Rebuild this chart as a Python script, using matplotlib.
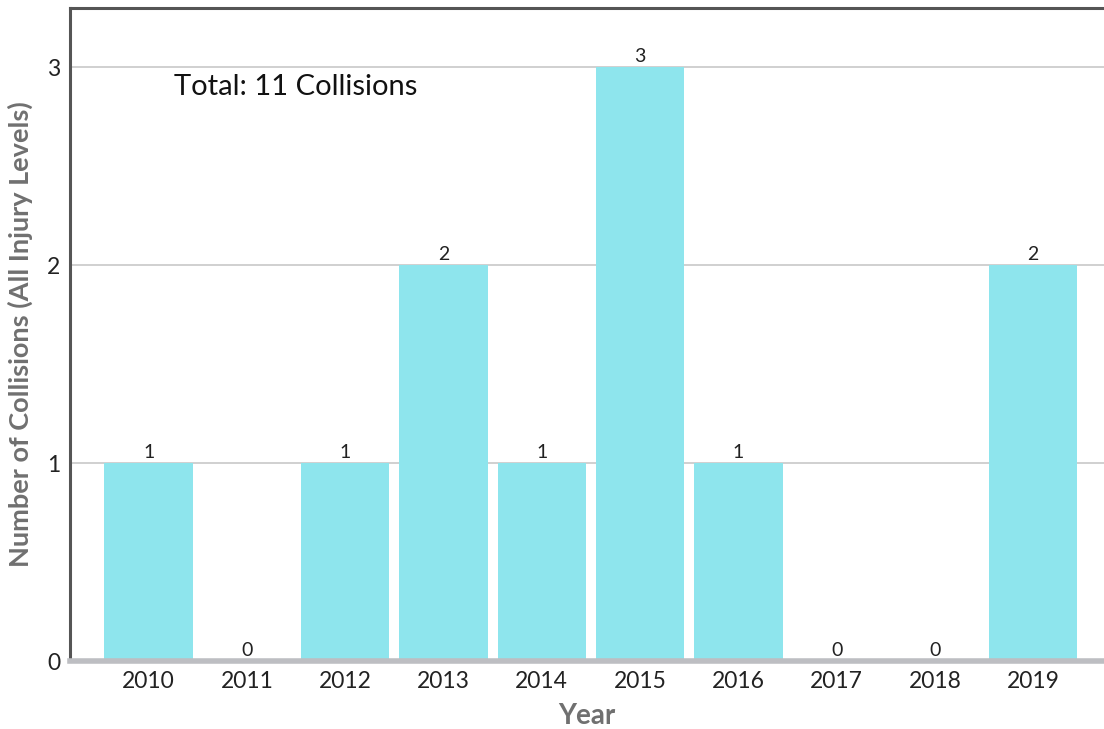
import matplotlib.pyplot as plt

# Datos
years = ["2010", "2011", "2012", "2013", "2014", "2015", "2016", "2017", "2018", "2019"]
collisions = [1, 0, 1, 2, 1, 3, 1, 0, 0, 2]
total_label = "Total: 11 Collisions"

plt.rcParams['font.family'] = ['Lato', 'DejaVu Sans']

fig = plt.figure(figsize=(11.04, 7.29), dpi=100)
ax = fig.add_axes([70 / 1104, 68 / 729, 1 - 70 / 1104, (661 - 8) / 729])

x = list(range(len(years)))
ax.bar(x, collisions, width=0.9, color="#8ee5ed", zorder=2)

for xi, v in zip(x, collisions):
    ax.text(xi, v + 0.012, str(v), ha="center", va="bottom", fontsize=14, color="#222222")

ax.set_xlim(-0.8, 9.72)
ax.set_ylim(0, 3.3)
ax.set_xticks(x)
ax.set_xticklabels(years)
ax.set_yticks([0, 1, 2, 3])
ax.tick_params(axis="both", length=0, labelsize=16.5, colors="#222222")
ax.tick_params(axis="x", pad=7)
ax.tick_params(axis="y", pad=7)

ax.yaxis.grid(True, color="#c8c8c8", linewidth=1.2, zorder=0)
ax.set_axisbelow(True)

ax.spines["right"].set_visible(False)
ax.spines["left"].set_color("#555555")
ax.spines["left"].set_linewidth(2.2)
ax.spines["top"].set_color("#555555")
ax.spines["top"].set_linewidth(2.2)
ax.spines["bottom"].set_color("#bdbec2")
ax.spines["bottom"].set_linewidth(4)
ax.spines["bottom"].set_zorder(3)

ax.set_ylabel("Number of Collisions (All Injury Levels)", fontsize=19.5, fontweight="bold",
              color="#707070", labelpad=10)
ax.set_xlabel("Year", fontsize=20, fontweight="bold", color="#707070", labelpad=8)

ax.text(0.26, 2.9, total_label, fontsize=21, color="#111111", ha="left", va="center")

fig.savefig("out.png", dpi=100)
